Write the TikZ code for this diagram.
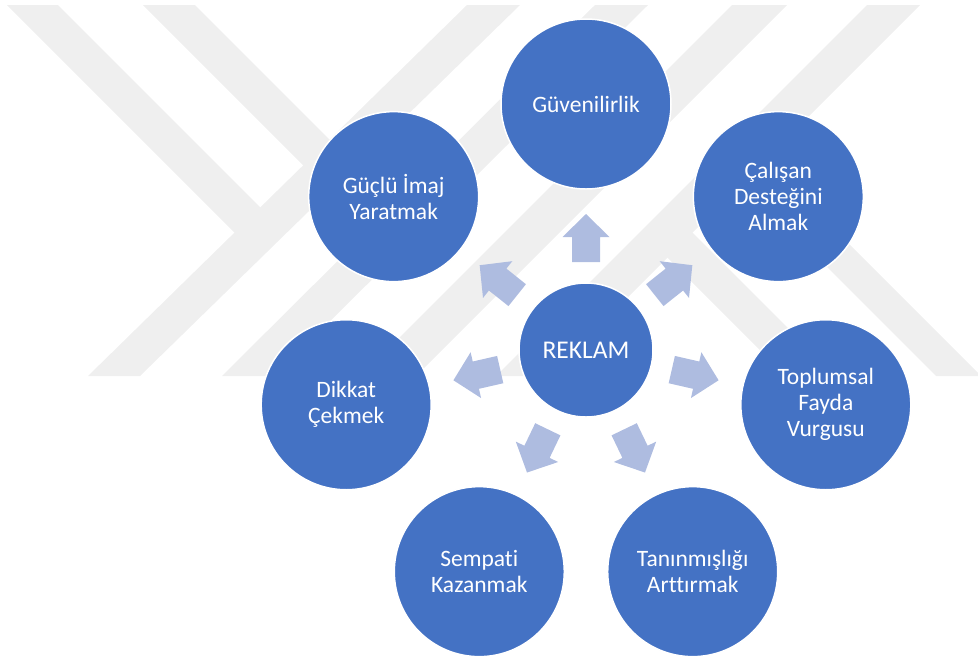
\documentclass[tikz,border=0pt]{standalone}
\usepackage{fontspec}
\setmainfont{Carlito}[Ligatures={NoCommon}]
\definecolor{cblue}{HTML}{4472C4}
\definecolor{carrow}{RGB}{174,188,224}
\definecolor{wmark}{RGB}{239,239,239}
\begin{document}
\begin{tikzpicture}[x=1pt,y=-1pt,
  bub/.style={circle,fill=cblue,draw=white,line width=1.5pt,minimum size=170pt,inner sep=0pt,text=white,align=center,font=\fontsize{23.5}{26}\selectfont},
  hub/.style={bub,minimum size=134pt,font=\fontsize{25.5}{30}\selectfont},
  wm/.style={fill=wmark},
  blk/.style={fill=carrow}]
\useasboundingbox (0,0) rectangle (978,657);
% watermark
\fill[wm] (7,5) -- (58,5) -- (271.5,218.5) -- (246,244) -- cycle;
\fill[wm] (143,5) -- (195,5) -- (407.5,217.5) -- (381.5,243.5) -- cycle;
\fill[wm] (88,376) -- (140,376) -- (520,5) -- (467,5) -- cycle;
\fill[wm] (222,376) -- (275,376) -- (648,5) -- (595,5) -- cycle;
\fill[wm] (732,5) -- (787,5) -- (416,376) -- (361,376) -- cycle;
\fill[wm] (867,5) -- (920,5) -- (549,376) -- (496,376) -- cycle;
\fill[wm] (654,244) -- (679,219) -- (836,376) -- (786,376) -- cycle;
\fill[wm] (729,169) -- (751.5,146.5) -- (978,373) -- (978,376) -- (936,376) -- cycle;
% centre
\node[hub] (rk) at (586,350) {REKLAM};
% block arrows
\foreach \a in {90,141.43,192.86,244.29,295.71,347.14,38.57}{
  \begin{scope}[shift={(rk.center)},rotate=\a]
    \fill[blk] (88,-14) -- (113,-14) -- (113,-23.5) -- (136,0) -- (113,23.5) -- (113,14) -- (88,14) -- cycle;
  \end{scope}
}
% outer circles
\path (rk.center) ++(-90:246) node[bub] (guv) {Güvenilirlik};
\path (rk.center) ++(-141.43:246) node[bub] (guc) {Güçlü İmaj\\Yaratmak};
\path (rk.center) ++(-192.86:246) node[bub] (dik) {Dikkat\\Çekmek};
\path (rk.center) ++(-244.29:246) node[bub] (sem) {Sempati\\Kazanmak};
\path (rk.center) ++(-295.71:246) node[bub] (tan) {Tanınmışlığı\\Arttırmak};
\path (rk.center) ++(-347.14:246) node[bub] (top) {Toplumsal\\Fayda\\Vurgusu};
\path (rk.center) ++(-38.57:246) node[bub] (cal) {Çalışan\\Desteğini\\Almak};
\end{tikzpicture}
\end{document}
